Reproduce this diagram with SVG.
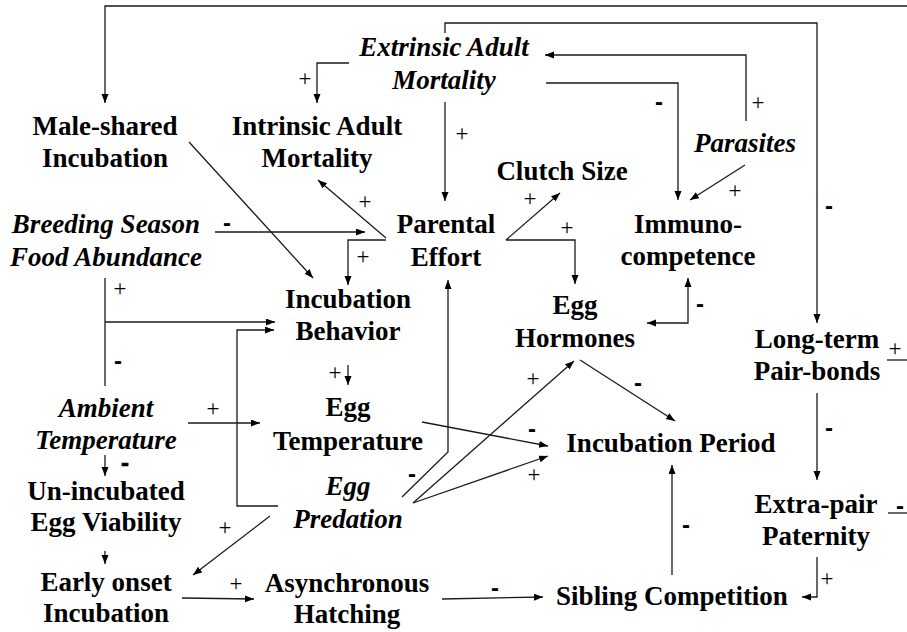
<svg xmlns="http://www.w3.org/2000/svg" width="907" height="632" viewBox="0 0 907 632">
<style>
.n{font-size:27px;font-weight:bold;text-anchor:middle;fill:#000}
.i{font-size:27px;font-weight:bold;font-style:italic;text-anchor:middle;fill:#000}
.p{font-size:23px;text-anchor:middle;fill:#000}
.m{font-size:24px;font-weight:bold;text-anchor:middle;fill:#000}
.c polyline,.c line{fill:none;stroke:#1a1a1a;stroke-width:1.3}
.a{marker-end:url(#ah)}
</style>
<defs>
<marker id="ah" markerUnits="userSpaceOnUse" markerWidth="10" markerHeight="8" refX="9" refY="3.5" orient="auto">
<path d="M0,0 L9,3.5 L0,7 z" fill="#000"/>
</marker>
<marker id="as" markerUnits="userSpaceOnUse" markerWidth="10" markerHeight="8" refX="0" refY="3.5" orient="auto">
<path d="M9,0 L0,3.5 L9,7 z" fill="#000"/>
</marker>
</defs>
<rect width="907" height="632" fill="#fff"/>
<g id="connectors" class="c">
<polyline class="a" points="907,6 105,6 105,103"/>
<polyline class="a" points="445,33 445,23 817,23 817,323"/>
<polyline class="a" points="349,63 317,63 317,103"/>
<polyline class="a" points="746,121 746,55 545,55"/>
<polyline class="a" points="546,83 678,83 678,200"/>
<polyline class="a" points="445,102 445,201"/>
<polyline class="a" points="745,165 690,200"/>
<polyline class="a" points="189,142 313,278"/>
<polyline class="a" points="386,238 318,180"/>
<polyline class="a" points="215,232 365,232"/>
<polyline class="a" points="386,240 348,240 348,285"/>
<polyline class="a" points="506,240 560,193"/>
<polyline class="a" points="506,240 575,240 575,284"/>
<polyline points="688,278 688,323 647,323" marker-start="url(#as)" marker-end="url(#ah)"/>
<polyline class="a" points="580,360 675,421"/>
<polyline class="a" points="817,393 817,480"/>
<polyline class="a" points="817,557 817,597 802,597"/>
<polyline class="a" points="672,575 672,465"/>
<polyline class="a" points="442,599 543,597"/>
<polyline class="a" points="182,598 254,599"/>
<polyline class="a" points="270,516 193,575"/>
<polyline class="a" points="105,551 105,564"/>
<polyline class="a" points="105,455 105,476"/>
<polyline class="a" points="188,423 260,423"/>
<polyline points="105,278 105,386"/>
<polyline class="a" points="105,322 275,322"/>
<polyline class="a" points="278,506 237,506 237,330 274,330"/>
<polyline class="a" points="348,365 348,385"/>
<polyline class="a" points="422,422 548,446"/>
<polyline class="a" points="413,503 548,456"/>
<polyline class="a" points="413,503 574,361"/>
<polyline class="a" points="402,497 448,452 448,280"/>
<line x1="887" y1="360" x2="907" y2="360"/>
<line x1="888" y1="513" x2="907" y2="513"/>
</g>
<g id="signs">
<g font-family="Liberation Serif, DejaVu Serif, Times New Roman, serif">
<text class="p" x="305" y="86">+</text>
<text class="p" x="758" y="110">+</text>
<text class="p" x="462" y="141">+</text>
<text class="p" x="735" y="198">+</text>
<text class="p" x="365" y="209">+</text>
<text class="p" x="363" y="264">+</text>
<text class="p" x="530" y="206">+</text>
<text class="p" x="567" y="235">+</text>
<text class="p" x="895" y="356">+</text>
<text class="p" x="827" y="586">+</text>
<text class="p" x="236" y="591">+</text>
<text class="p" x="225" y="535">+</text>
<text class="p" x="213" y="416">+</text>
<text class="p" x="120" y="296">+</text>
<text class="p" x="335" y="380">+</text>
<text class="p" x="534" y="482">+</text>
<text class="p" x="533" y="386">+</text>
</g>
<g font-family="Liberation Sans, Arial, sans-serif">
<text class="m" x="659" y="110">-</text>
<text class="m" x="829" y="214">-</text>
<text class="m" x="227" y="231">-</text>
<text class="m" x="700" y="312">-</text>
<text class="m" x="638" y="391">-</text>
<text class="m" x="829" y="436">-</text>
<text class="m" x="900" y="514">-</text>
<text class="m" x="686" y="533">-</text>
<text class="m" x="495" y="596">-</text>
<text class="m" x="125" y="471" font-size="18" stroke="#000" stroke-width="0.6">-</text>
<text class="m" x="118" y="369">-</text>
<text class="m" x="532" y="437">-</text>
<text class="m" x="412" y="482">-</text>
</g>
</g>
<g font-family="Liberation Serif, DejaVu Serif, Times New Roman, serif">
<g id="male-shared"><text class="n" x="105" y="135">Male-shared</text><text class="n" x="105" y="167">Incubation</text></g>
<g id="extrinsic"><text class="i" x="444" y="56">Extrinsic Adult</text><text class="i" x="444" y="89">Mortality</text></g>
<g id="intrinsic"><text class="n" x="317" y="135">Intrinsic Adult</text><text class="n" x="317" y="167">Mortality</text></g>
<g id="parasites"><text class="i" x="745" y="152">Parasites</text></g>
<g id="clutch"><text class="n" x="562" y="180">Clutch Size</text></g>
<g id="parental"><text class="n" x="446" y="233">Parental</text><text class="n" x="446" y="266">Effort</text></g>
<g id="immuno"><text class="n" x="688" y="233">Immuno-</text><text class="n" x="688" y="265">competence</text></g>
<g id="breeding"><text class="i" x="106" y="233">Breeding Season</text><text class="i" x="106" y="266">Food Abundance</text></g>
<g id="incbeh"><text class="n" x="348" y="308">Incubation</text><text class="n" x="348" y="340">Behavior</text></g>
<g id="egghorm"><text class="n" x="575" y="314">Egg</text><text class="n" x="575" y="347">Hormones</text></g>
<g id="longterm"><text class="n" x="817" y="348">Long-term</text><text class="n" x="817" y="380">Pair-bonds</text></g>
<g id="ambient"><text class="i" x="106" y="417">Ambient</text><text class="i" x="106" y="449">Temperature</text></g>
<g id="eggtemp"><text class="n" x="348" y="416">Egg</text><text class="n" x="348" y="450">Temperature</text></g>
<g id="incperiod"><text class="n" x="671" y="452">Incubation Period</text></g>
<g id="unincubated"><text class="n" x="106" y="500">Un-incubated</text><text class="n" x="106" y="531">Egg Viability</text></g>
<g id="eggpred"><text class="i" x="348" y="495">Egg</text><text class="i" x="348" y="528">Predation</text></g>
<g id="extrapair"><text class="n" x="816" y="513">Extra-pair</text><text class="n" x="816" y="545">Paternity</text></g>
<g id="early"><text class="n" x="106" y="591">Early onset</text><text class="n" x="106" y="622">Incubation</text></g>
<g id="async"><text class="n" x="347" y="592">Asynchronous</text><text class="n" x="347" y="623">Hatching</text></g>
<g id="sibling"><text class="n" x="672" y="605">Sibling Competition</text></g>
</g>
</svg>
